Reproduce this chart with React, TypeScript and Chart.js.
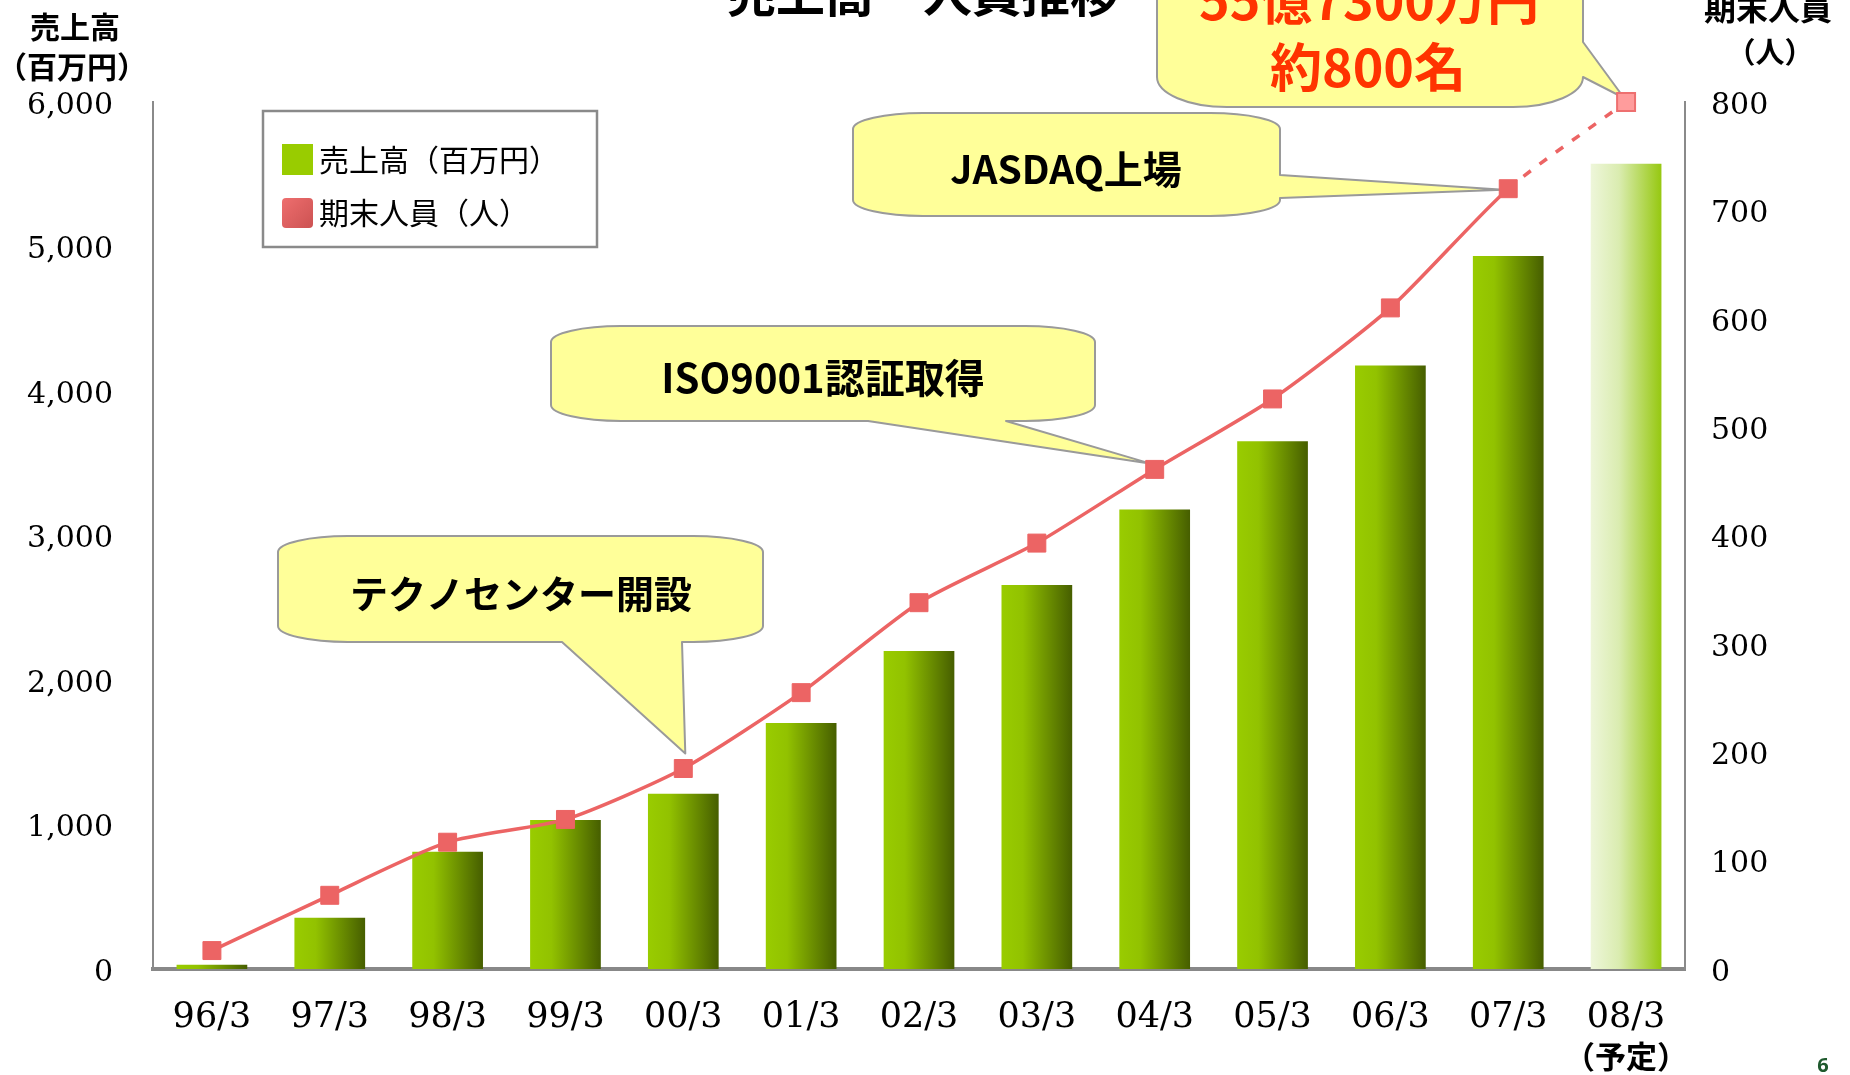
import React, { useEffect, useRef } from "react";
import { Chart, registerables } from "chart.js";

Chart.register(...registerables);

// ---------- data ----------
const categories = ["96/3", "97/3", "98/3", "99/3", "00/3", "01/3", "02/3", "03/3", "04/3", "05/3", "06/3", "07/3", "08/3"];
const salesValues = [30, 355, 812, 1032, 1212, 1702, 2200, 2657, 3180, 3652, 4176, 4934, 5573];
const staffValues = [17, 68, 117, 138, 185, 255, 338, 393, 461, 526, 610, 720, 800];
const salesTickMax = 6000;
const salesTickStep = 1000;
const staffTickMax = 800;
const staffTickStep = 100;
const seriesNames = ["売上高（百万円）", "期末人員（人）"];
const chartTitle = "売上高・人員推移";
const leftAxisTitle = ["売上高", "（百万円）"];
const rightAxisTitle = ["期末人員", "（人）"];
const forecastNote = "（予定）";
const pageNumber = "6";
const calloutTexts = ["テクノセンター開設", "ISO9001認証取得", "JASDAQ上場"];
const calloutIndex = [4, 8, 11];
const forecastTexts = ["55億7300万円", "約800名"];
const forecastIndex = 12;

const LAST = categories.length - 1;
const CJK = '"Noto Sans CJK JP", "Noto Sans", sans-serif';
const SERIF = '"DejaVu Serif", serif';

type Body = { x: number; y: number; w: number; h: number; rx: number; ry: number };
type Tail = { side: "right" | "bottom"; a: number; b: number; tx: number; ty: number };

function calloutPath(ctx: CanvasRenderingContext2D, bd: Body, t: Tail) {
  const { x, y, w, h, rx, ry } = bd;
  const k = 0.5523;
  ctx.beginPath();
  ctx.moveTo(x + rx, y);
  ctx.lineTo(x + w - rx, y);
  ctx.bezierCurveTo(x + w - rx + rx * k, y, x + w, y + ry - ry * k, x + w, y + ry);
  if (t.side === "right") {
    ctx.lineTo(x + w, t.a);
    ctx.lineTo(t.tx, t.ty);
    ctx.lineTo(x + w, t.b);
  }
  ctx.lineTo(x + w, y + h - ry);
  ctx.bezierCurveTo(x + w, y + h - ry + ry * k, x + w - rx + rx * k, y + h, x + w - rx, y + h);
  if (t.side === "bottom") {
    ctx.lineTo(t.b, y + h);
    ctx.lineTo(t.tx, t.ty);
    ctx.lineTo(t.a, y + h);
  }
  ctx.lineTo(x + rx, y + h);
  ctx.bezierCurveTo(x + rx - rx * k, y + h, x, y + h - ry + ry * k, x, y + h - ry);
  ctx.lineTo(x, y + ry);
  ctx.bezierCurveTo(x, y + ry - ry * k, x + rx - rx * k, y, x + rx, y);
  ctx.closePath();
}

function drawCallout(ctx: CanvasRenderingContext2D, bd: Body, t: Tail) {
  ctx.save();
  calloutPath(ctx, bd, t);
  ctx.fillStyle = "#FFFF99";
  ctx.fill();
  ctx.lineWidth = 2;
  ctx.strokeStyle = "#9a9a9a";
  ctx.lineJoin = "round";
  ctx.stroke();
  ctx.restore();
}

const annotationPlugin = {
  id: "annotations",
  beforeDatasetsDraw(chart: any) {
    const ctx: CanvasRenderingContext2D = chart.ctx;
    const xs = chart.scales.x;
    const ys = chart.scales.y1;
    const pt = (i: number) => ({ x: xs.getPixelForValue(i), y: ys.getPixelForValue(staffValues[i]) });
    const p0 = pt(calloutIndex[0]);
    drawCallout(ctx, { x: 278, y: 536, w: 485, h: 106, rx: 70, ry: 16 }, { side: "bottom", a: 562, b: 682, tx: p0.x + 2, ty: p0.y - 15 });
    const p1 = pt(calloutIndex[1]);
    drawCallout(ctx, { x: 551, y: 326, w: 544, h: 95, rx: 70, ry: 16 }, { side: "bottom", a: 868, b: 1006, tx: p1.x - 5, ty: p1.y - 6 });
    const p2 = pt(calloutIndex[2]);
    drawCallout(ctx, { x: 853, y: 113, w: 427, h: 103, rx: 70, ry: 16 }, { side: "right", a: 175, b: 198, tx: p2.x - 5, ty: p2.y + 1 });
    const p3 = pt(forecastIndex);
    drawCallout(ctx, { x: 1157, y: -80, w: 426, h: 187, rx: 70, ry: 30 }, { side: "right", a: 42, b: 77, tx: p3.x - 2, ty: p3.y - 4 });
  },
  afterDraw(chart: any) {
    const ctx: CanvasRenderingContext2D = chart.ctx;
    const xs = chart.scales.x;

    ctx.save();
    // title (cut off at the top)
    ctx.fillStyle = "#000";
    ctx.textAlign = "center";
    ctx.textBaseline = "middle";
    ctx.font = `bold 49px ${CJK}`;
    ctx.fillText(chartTitle, 923, -7);

    // axis titles
    ctx.font = `bold 30px ${CJK}`;
    ctx.fillText(leftAxisTitle[0], 75, 27);
    ctx.fillText(leftAxisTitle[1], 72, 67);
    ctx.font = `bold 32px ${CJK}`;
    ctx.fillText(rightAxisTitle[0], 1768, 8);
    ctx.font = `bold 29px ${CJK}`;
    ctx.fillText(rightAxisTitle[1], 1770, 52);

    // forecast note under last category
    ctx.font = `bold 31px ${CJK}`;
    ctx.fillText(forecastNote, xs.getPixelForValue(LAST), 1056);

    // page number
    ctx.fillStyle = "#1F5A2E";
    ctx.font = `bold 20px "Noto Sans", sans-serif`;
    ctx.fillText(pageNumber, 1823, 1066);

    // legend box
    ctx.fillStyle = "#fff";
    ctx.fillRect(263, 111, 334, 136);
    ctx.lineWidth = 2.5;
    ctx.strokeStyle = "#8a8a8a";
    ctx.strokeRect(263, 111, 334, 136);
    ctx.fillStyle = "#99CC00";
    ctx.fillRect(282, 144, 31, 31);
    const lg = ctx.createLinearGradient(282, 198, 313, 228);
    lg.addColorStop(0, "#EE6E6E");
    lg.addColorStop(1, "#CC5252");
    ctx.fillStyle = lg;
    ctx.beginPath();
    (ctx as any).roundRect(282, 198, 31, 30, 4);
    ctx.fill();
    ctx.fillStyle = "#000";
    ctx.textAlign = "left";
    ctx.font = `30px ${CJK}`;
    ctx.fillText(seriesNames[0], 319, 160);
    ctx.fillText(seriesNames[1], 319, 213);

    // callout texts
    ctx.textAlign = "center";
    ctx.textBaseline = "middle";
    ctx.font = `bold 38px ${CJK}`;
    ctx.fillText(calloutTexts[0], 521, 594);
    ctx.font = `bold 40px ${CJK}`;
    ctx.fillText(calloutTexts[1], 823, 378);
    ctx.font = `bold 39px ${CJK}`;
    ctx.fillText(calloutTexts[2], 1066, 169);
    ctx.fillStyle = "#FF3300";
    ctx.font = `bold 52px ${CJK}`;
    ctx.fillText(forecastTexts[0], 1369, 0);
    ctx.fillText(forecastTexts[1], 1368, 67);
    ctx.restore();
  },
};

function barFill(c: any) {
  const chart = c.chart;
  const xs = chart.scales && chart.scales.x;
  if (!xs || c.type !== "data") return "#99CC00";
  const cx = xs.getPixelForValue(c.dataIndex);
  const w = (xs.width / categories.length) * 0.6;
  if (!isFinite(cx) || !isFinite(w) || w <= 0) return "#99CC00";
  const g = chart.ctx.createLinearGradient(cx - w / 2, 0, cx + w / 2, 0);
  if (c.dataIndex === LAST) {
    g.addColorStop(0, "#EEF6DA");
    g.addColorStop(0.4, "#DAECB0");
    g.addColorStop(1, "#96C810");
  } else {
    g.addColorStop(0, "#99CC00");
    g.addColorStop(0.3, "#92C200");
    g.addColorStop(1, "#465E00");
  }
  return g;
}

export default function App() {
  const ref = useRef<HTMLCanvasElement | null>(null);
  useEffect(() => {
    document.body.style.margin = "0";
    document.body.style.overflow = "hidden";
    const canvas = ref.current;
    if (!canvas) return;
    const chart = new Chart(canvas, {
      type: "bar",
      data: {
        labels: categories,
        datasets: [
          {
            type: "line",
            label: seriesNames[1],
            data: staffValues,
            yAxisID: "y1",
            order: 1,
            clip: false,
            borderColor: "#EC6464",
            borderWidth: 3.5,
            tension: 0.22,
            fill: false,
            pointStyle: "rect",
            pointRadius: 12.7,
            pointHoverRadius: 12.7,
            pointBackgroundColor: staffValues.map((_, i) => (i === LAST ? "#FF9C9C" : "#EC6464")),
            pointBorderColor: staffValues.map((_, i) => (i === LAST ? "#EE7070" : "#EC6464")),
            pointBorderWidth: staffValues.map((_, i) => (i === LAST ? 2 : 1)),
            segment: {
              borderDash: (s: any) => (s.p1DataIndex === LAST ? [9, 11] : undefined),
            },
          } as any,
          {
            type: "bar",
            label: seriesNames[0],
            data: salesValues,
            yAxisID: "y",
            order: 2,
            backgroundColor: barFill as any,
            borderWidth: 0,
            barPercentage: 0.6,
            categoryPercentage: 1,
          } as any,
        ],
      },
      options: {
        animation: false,
        responsive: false,
        devicePixelRatio: 1,
        layout: { padding: { top: 102, left: 0, right: 0, bottom: 0 } },
        plugins: {
          legend: { display: false },
          tooltip: { enabled: false },
          title: { display: false },
        },
        scales: {
          x: {
            offset: true,
            grid: { display: false, drawTicks: false },
            border: { display: true, color: "#888", width: 4 },
            ticks: {
              color: "#000",
              font: { family: SERIF, size: 35 },
              padding: 28,
              maxRotation: 0,
              autoSkip: false,
            },
            afterFit: (s: any) => {
              s.height = 106;
            },
          },
          y: {
            position: "left",
            min: 0,
            max: salesTickMax,
            grid: { display: false, drawTicks: false },
            border: { display: true, color: "#8a8a8a", width: 2 },
            ticks: {
              stepSize: salesTickStep,
              color: "#000",
              font: { family: SERIF, size: 30 },
              padding: 40,
              labelOffset: 4,
              callback: (v: any) => Number(v).toLocaleString("en-US"),
            },
            afterFit: (s: any) => {
              s.width = 153;
            },
          },
          y1: {
            position: "right",
            min: 0,
            max: staffTickMax,
            grid: { display: false, drawTicks: false },
            border: { display: true, color: "#8a8a8a", width: 2 },
            ticks: {
              stepSize: staffTickStep,
              color: "#000",
              font: { family: SERIF, size: 30 },
              padding: 26,
              labelOffset: 4,
            },
            afterFit: (s: any) => {
              s.width = 165;
            },
          },
        },
      } as any,
      plugins: [annotationPlugin as any],
    });
    return () => chart.destroy();
  }, []);
  return (
    <div style={{ position: "relative", width: 1850, height: 1075 }}>
      <canvas ref={ref} width={1850} height={1075} style={{ display: "block", width: 1850, height: 1075 }} />
    </div>
  );
}
